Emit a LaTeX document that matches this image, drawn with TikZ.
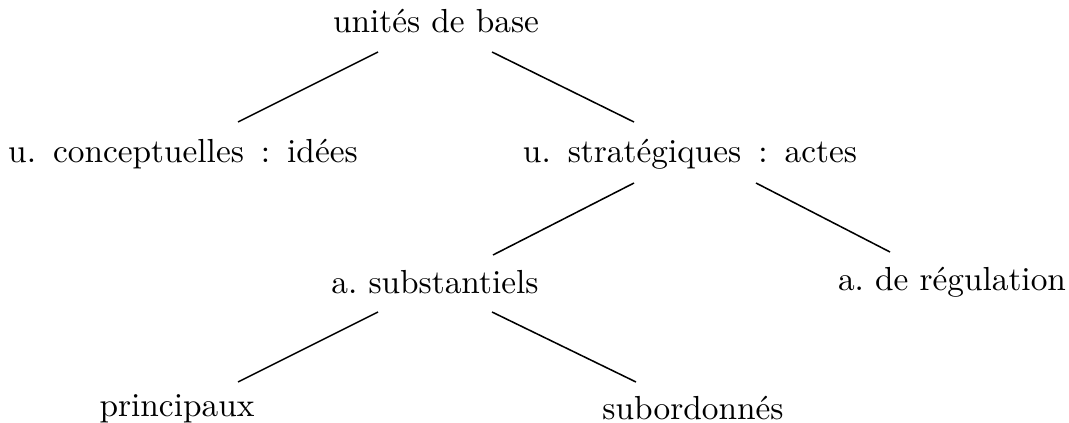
\documentclass[tikz,border=0pt]{standalone}
\usetikzlibrary{calc}
\begin{document}
\frenchspacing
\begin{tikzpicture}[x=0.294pt,y=-0.294pt,
  lbl/.style={anchor=base,inner sep=0pt,font=\fontsize{9.8}{12}\selectfont\frenchspacing},
  widesp/.style={lbl,font={\fontsize{9.8}{12}\selectfont\frenchspacing\spaceskip=5pt\relax}},
  edge/.style={line width=0.45pt}]
\useasboundingbox (0,0) rectangle (1069,423);
\node[lbl] (root) at (436,33) {unités de base};
\node[widesp] (c1) at (183,162) {u. conceptuelles : idées};
\node[widesp] (c2) at (690,162) {u. stratégiques : actes};
\node[lbl] (s) at (435,293) {a. substantiels};
\node[lbl] (r) at (952,290) {a. de régulation};
\node[lbl] (p) at (177,416) {principaux};
\node[lbl] (sub) at (693,419) {subordonnés};
\draw[edge] ($(root.base)+(-58,19)$) -- ($(c1.base)+(55,-40)$);
\draw[edge] ($(root.base)+(56,19)$) -- ($(c2.base)+(-56,-40)$);
\draw[edge] ($(c2.base)+(-56,21)$) -- ($(s.base)+(58,-38)$);
\draw[edge] ($(c2.base)+(66,21)$) -- ($(r.base)+(-62,-38)$);
\draw[edge] ($(s.base)+(-57,19)$) -- ($(p.base)+(61,-34)$);
\draw[edge] ($(s.base)+(57,19)$) -- ($(sub.base)+(-57,-37)$);
\end{tikzpicture}
\end{document}
